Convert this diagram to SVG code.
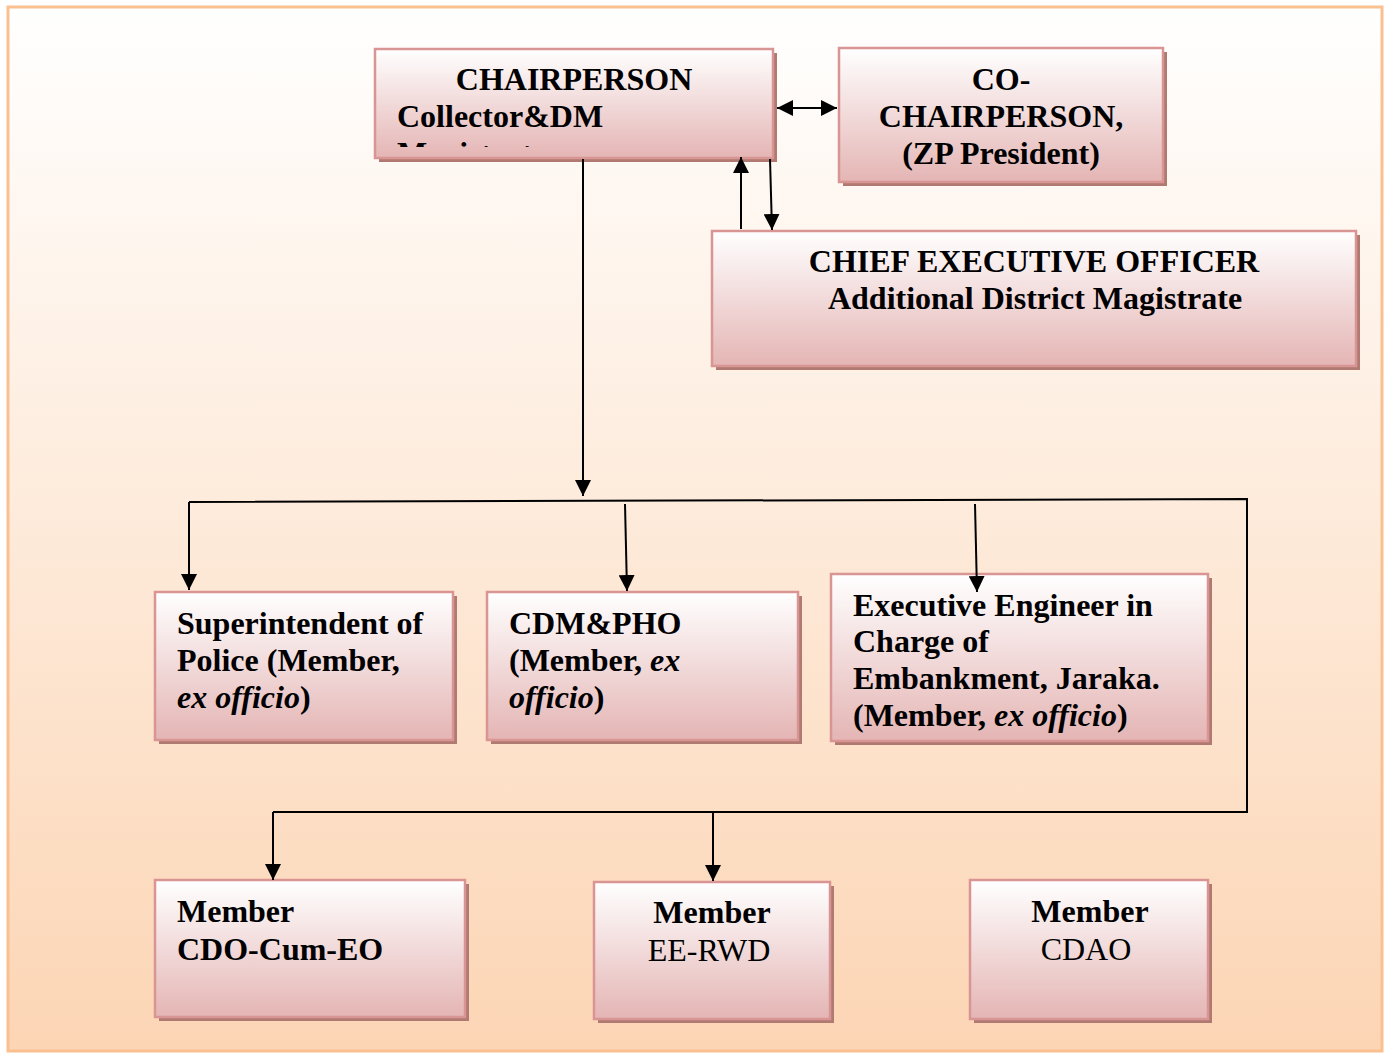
<svg xmlns="http://www.w3.org/2000/svg" width="1384" height="1053" viewBox="0 0 1384 1053">
<defs>
<linearGradient id="bg" x1="0" y1="0" x2="0" y2="1">
<stop offset="0" stop-color="#FFFFFF"/>
<stop offset="1" stop-color="#FCD5B4"/>
</linearGradient>
<linearGradient id="box" x1="0" y1="0" x2="0" y2="1">
<stop offset="0" stop-color="#FFFFFF"/>
<stop offset="1" stop-color="#E4B5B4"/>
</linearGradient>
<marker id="ah" viewBox="0 0 10 10" refX="10" refY="5" markerWidth="16" markerHeight="16" markerUnits="userSpaceOnUse" orient="auto-start-reverse">
<path d="M0,0 L10,5 L0,10 z" fill="#000"/>
</marker>
<clipPath id="chairClip"><rect x="377" y="51" width="394" height="96"/></clipPath>
<style>
.bx{fill:url(#box);stroke:#D99594;stroke-width:2.5}
.sh{fill:#B07A72}
.t{font-family:"Liberation Serif","Times New Roman",serif;font-size:32px;fill:#000}
.b{font-weight:bold}
.c{text-anchor:middle}
.ln{stroke:#000;stroke-width:2;fill:none}
</style>
</defs>
<rect x="8" y="7" width="1374" height="1044" fill="url(#bg)" stroke="#FAC090" stroke-width="3"/>

<g id="chairperson">
<rect class="sh" x="379" y="53" width="398" height="109"/>
<rect class="bx" x="375" y="49" width="398" height="109"/>
<text class="t b c" x="574" y="90">CHAIRPERSON</text>
<text class="t b" x="397" y="127">Collector&amp;DM</text>
<text class="t b" x="397" y="164" clip-path="url(#chairClip)">Magistrate</text>
</g>

<g id="co-chairperson">
<rect class="sh" x="843" y="52" width="324" height="134"/>
<rect class="bx" x="839" y="48" width="324" height="134"/>
<text class="t b c" x="1001" y="90">CO-</text>
<text class="t b c" x="1001" y="127">CHAIRPERSON,</text>
<text class="t b c" x="1001" y="164">(ZP President)</text>
</g>

<g id="ceo">
<rect class="sh" x="716" y="235" width="644" height="135"/>
<rect class="bx" x="712" y="231" width="644" height="135"/>
<text class="t b c" x="1034" y="272">CHIEF EXECUTIVE OFFICER</text>
<text class="t b c" x="1035" y="309">Additional District Magistrate</text>
</g>

<g id="sp">
<rect class="sh" x="159" y="596" width="298" height="148"/>
<rect class="bx" x="155" y="592" width="298" height="148"/>
<text class="t b" x="177" y="634">Superintendent of</text>
<text class="t b" x="177" y="671">Police (Member,</text>
<text class="t b" x="177" y="708"><tspan font-style="italic">ex officio</tspan>)</text>
</g>

<g id="cdmpho">
<rect class="sh" x="491" y="596" width="311" height="148"/>
<rect class="bx" x="487" y="592" width="311" height="148"/>
<text class="t b" x="509" y="634">CDM&amp;PHO</text>
<text class="t b" x="509" y="671">(Member, <tspan font-style="italic">ex</tspan></text>
<text class="t b" x="509" y="708"><tspan font-style="italic">officio</tspan>)</text>
</g>

<g id="ee-embankment">
<rect class="sh" x="835" y="578" width="377" height="167"/>
<rect class="bx" x="831" y="574" width="377" height="167"/>
<text class="t b" x="853" y="616">Executive Engineer in</text>
<text class="t b" x="853" y="652">Charge of</text>
<text class="t b" x="853" y="689">Embankment, Jaraka.</text>
<text class="t b" x="853" y="726">(Member, <tspan font-style="italic">ex officio</tspan>)</text>
</g>

<g id="member-cdo">
<rect class="sh" x="159" y="884" width="310" height="137"/>
<rect class="bx" x="155" y="880" width="310" height="137"/>
<text class="t b" x="177" y="922">Member</text>
<text class="t b" x="177" y="960">CDO-Cum-EO</text>
</g>

<g id="member-ee-rwd">
<rect class="sh" x="598" y="886" width="236" height="137"/>
<rect class="bx" x="594" y="882" width="236" height="137"/>
<text class="t b c" x="712" y="923">Member</text>
<text class="t c" x="709" y="961">EE-RWD</text>
</g>

<g id="member-cdao">
<rect class="sh" x="974" y="884" width="238" height="139"/>
<rect class="bx" x="970" y="880" width="238" height="139"/>
<text class="t b c" x="1090" y="922">Member</text>
<text class="t c" x="1086" y="960">CDAO</text>
</g>

<g id="connectors">
<line class="ln" x1="777" y1="108" x2="837" y2="108" marker-start="url(#ah)" marker-end="url(#ah)"/>
<line class="ln" x1="741" y1="229" x2="741" y2="157" marker-end="url(#ah)"/>
<line class="ln" x1="770" y1="159" x2="772" y2="230" marker-end="url(#ah)"/>
<line class="ln" x1="583" y1="159" x2="583" y2="496" marker-end="url(#ah)"/>
<polyline class="ln" points="189,502 1247,499 1247,812 273,812"/>
<line class="ln" x1="189" y1="502" x2="189" y2="590" marker-end="url(#ah)"/>
<line class="ln" x1="625" y1="504" x2="627" y2="591" marker-end="url(#ah)"/>
<line class="ln" x1="975" y1="504" x2="977" y2="592" marker-end="url(#ah)"/>
<line class="ln" x1="273" y1="812" x2="273" y2="880" marker-end="url(#ah)"/>
<line class="ln" x1="713" y1="812" x2="713" y2="881" marker-end="url(#ah)"/>
</g>
</svg>
